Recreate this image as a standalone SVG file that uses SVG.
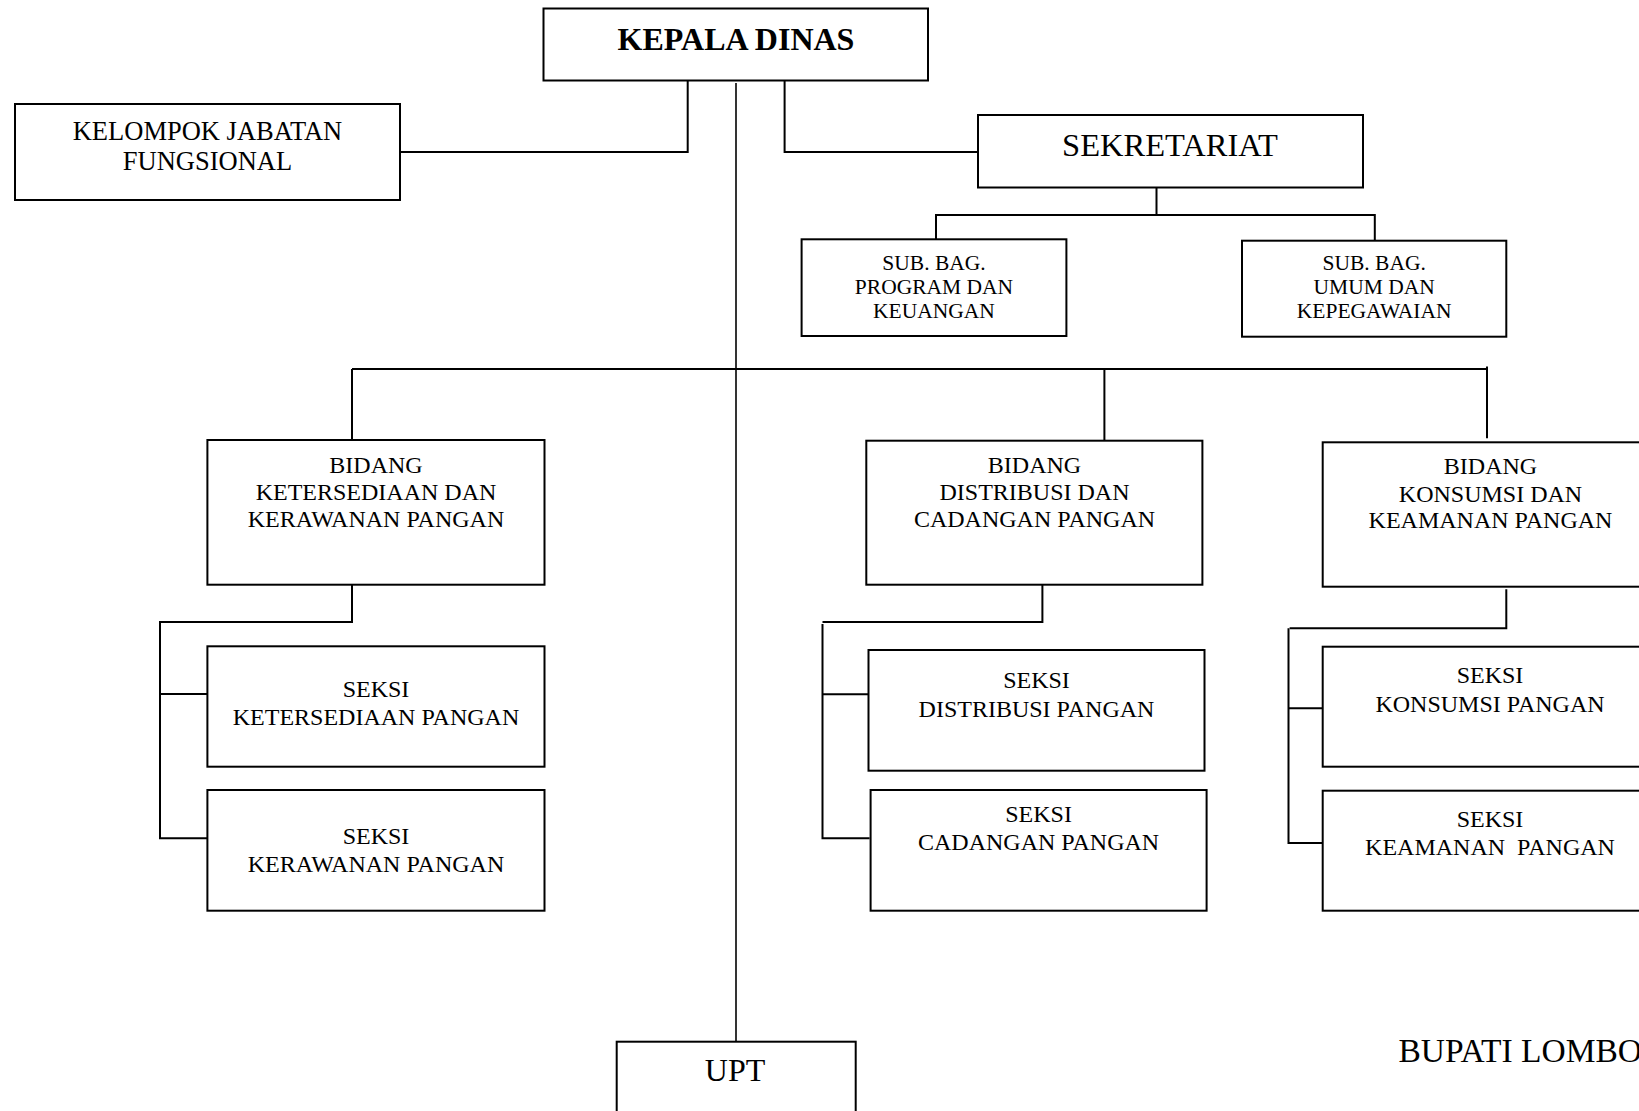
<svg xmlns="http://www.w3.org/2000/svg" width="1639" height="1111" viewBox="0 0 1639 1111">
<style>
.box{fill:#fff;stroke:#000;stroke-width:2}
.ln{fill:none;stroke:#000;stroke-width:2}
.thin{fill:none;stroke:#000;stroke-width:1.6}
text{font-family:"Liberation Serif","Times New Roman",serif;fill:#000;text-anchor:middle}
.t24{font-size:24px}
.t21{font-size:21.5px}
.t26{font-size:26.5px}
</style>
<rect width="1639" height="1111" fill="#fff"/>
<g id="connectors">
<polyline class="ln" points="687.7,80 687.7,152 401,152"/>
<polyline class="ln" points="784.6,80 784.6,152 978,152"/>
<line class="thin" x1="736" y1="83" x2="736" y2="1042"/>
<line class="ln" x1="352" y1="369" x2="1487" y2="369"/>
<line class="ln" x1="352" y1="369" x2="352" y2="440"/>
<line class="ln" x1="1104.4" y1="369" x2="1104.4" y2="440"/>
<line class="ln" x1="1487" y1="366.5" x2="1487" y2="438.3"/>
<polyline class="ln" points="1156.5,187.7 1156.5,215"/>
<polyline class="ln" points="936,239.3 936,215 1374.8,215 1374.8,240.7"/>
<polyline class="ln" points="352,584.7 352,622 160,622 160,838.3 207.4,838.3"/>
<line class="ln" x1="160" y1="694" x2="207.4" y2="694"/>
<polyline class="ln" points="1042.4,584.7 1042.4,622 822.5,622"/>
<polyline class="ln" points="822.5,624 822.5,838.3 869.6,838.3"/>
<line class="ln" x1="822.5" y1="694.3" x2="868.5" y2="694.3"/>
<polyline class="ln" points="1506.3,589.3 1506.3,628.3 1289.6,628.3"/>
<polyline class="ln" points="1288.5,628.3 1288.5,843 1322.7,843"/>
<line class="ln" x1="1288.5" y1="708.3" x2="1322.7" y2="708.3"/>
</g>
<g id="kepala-dinas">
<rect class="box" x="543.5" y="8.5" width="384.5" height="72"/>
<text x="736" y="50" style="font-size:32px;font-weight:bold">KEPALA DINAS</text>
</g>
<g id="kelompok-jabatan">
<rect class="box" x="15" y="104" width="385" height="96"/>
<text class="t26" x="207.5" y="140">KELOMPOK JABATAN</text>
<text class="t26" x="207.5" y="170">FUNGSIONAL</text>
</g>
<g id="sekretariat">
<rect class="box" x="978" y="115" width="385" height="72.5"/>
<text x="1170" y="155.5" style="font-size:32.5px">SEKRETARIAT</text>
</g>
<g id="subbag-program">
<rect class="box" x="801.6" y="239.3" width="264.8" height="96.7"/>
<text class="t21" x="934" y="270">SUB. BAG.</text>
<text class="t21" x="934" y="294">PROGRAM DAN</text>
<text class="t21" x="934" y="318">KEUANGAN</text>
</g>
<g id="subbag-umum">
<rect class="box" x="1242" y="240.7" width="264.3" height="96"/>
<text class="t21" x="1374.2" y="270">SUB. BAG.</text>
<text class="t21" x="1374.2" y="294">UMUM DAN</text>
<text class="t21" x="1374.2" y="318">KEPEGAWAIAN</text>
</g>
<g id="bidang-ketersediaan">
<rect class="box" x="207.4" y="440" width="337.1" height="144.7"/>
<text class="t24" x="376" y="473.3">BIDANG</text>
<text class="t24" x="376" y="500">KETERSEDIAAN DAN</text>
<text class="t24" x="376" y="527.3">KERAWANAN PANGAN</text>
</g>
<g id="bidang-distribusi">
<rect class="box" x="866.3" y="440.7" width="336.1" height="144"/>
<text class="t24" x="1034.5" y="472.7">BIDANG</text>
<text class="t24" x="1034.5" y="500">DISTRIBUSI DAN</text>
<text class="t24" x="1034.5" y="527.3">CADANGAN PANGAN</text>
</g>
<g id="bidang-konsumsi">
<rect class="box" x="1322.7" y="442.3" width="336.3" height="144.4"/>
<text class="t24" x="1490.5" y="474">BIDANG</text>
<text class="t24" x="1490.5" y="501.7">KONSUMSI DAN</text>
<text class="t24" x="1490.5" y="528.3">KEAMANAN PANGAN</text>
</g>
<g id="seksi-ketersediaan">
<rect class="box" x="207.4" y="646.3" width="337.1" height="120.4"/>
<text class="t24" x="376" y="697.3">SEKSI</text>
<text class="t24" x="376" y="725">KETERSEDIAAN PANGAN</text>
</g>
<g id="seksi-kerawanan">
<rect class="box" x="207.4" y="790" width="337.1" height="120.7"/>
<text class="t24" x="376" y="844">SEKSI</text>
<text class="t24" x="376" y="871.7">KERAWANAN PANGAN</text>
</g>
<g id="seksi-distribusi">
<rect class="box" x="868.5" y="650" width="336" height="120.7"/>
<text class="t24" x="1036.5" y="688.3">SEKSI</text>
<text class="t24" x="1036.5" y="716.7">DISTRIBUSI PANGAN</text>
</g>
<g id="seksi-cadangan">
<rect class="box" x="870.6" y="790" width="336" height="120.7"/>
<text class="t24" x="1038.6" y="821.7">SEKSI</text>
<text class="t24" x="1038.6" y="850">CADANGAN PANGAN</text>
</g>
<g id="seksi-konsumsi">
<rect class="box" x="1322.7" y="646.7" width="336.3" height="120"/>
<text class="t24" x="1490" y="683.3">SEKSI</text>
<text class="t24" x="1490" y="711.7">KONSUMSI PANGAN</text>
</g>
<g id="seksi-keamanan">
<rect class="box" x="1322.7" y="790.7" width="336.3" height="120"/>
<text class="t24" x="1490" y="827.3">SEKSI</text>
<text class="t24" x="1490" y="855" style="white-space:pre">KEAMANAN  PANGAN</text>
</g>
<g id="upt">
<rect class="box" x="616.7" y="1041.7" width="239" height="80"/>
<text x="735" y="1081" style="font-size:32px">UPT</text>
</g>
<g id="bupati">
<text x="1398.5" y="1061.5" style="font-size:33.5px;text-anchor:start">BUPATI LOMBO</text>
</g>
</svg>
